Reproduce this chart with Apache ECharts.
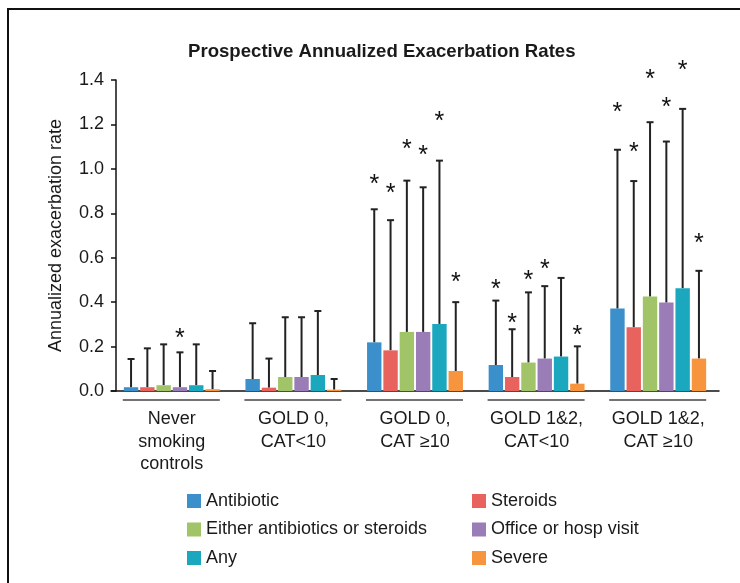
<!DOCTYPE html>
<html>
<head>
<meta charset="utf-8">
<script src="https://cdn.jsdelivr.net/npm/echarts@6/dist/echarts.min.js"></script>
<style>
  html, body { margin: 0; padding: 0; background: #fff; }
  #chart { width: 740px; height: 583px; }
</style>
</head>
<body>
<div id="chart"></div>
<script>
// categories along the x axis
const categories = ['Never\nsmoking\ncontrols', 'GOLD 0,\nCAT<10', 'GOLD 0,\nCAT ≥10', 'GOLD 1&2,\nCAT<10', 'GOLD 1&2,\nCAT ≥10']
const seriesNames = ['Antibiotic', 'Steroids', 'Either antibiotics or steroids', 'Office or hosp visit', 'Any', 'Severe']
const colors = ['#3b8fca', '#e8635d', '#a1c468', '#9a7cb6', '#1ba8be', '#f7953f']
const yTicks = [0, 0.2, 0.4, 0.6, 0.8, 1.0, 1.2, 1.4]

// mean rates
const antibiotic = [0.017, 0.054, 0.219, 0.117, 0.371]
const steroids = [0.017, 0.015, 0.183, 0.063, 0.287]
const either = [0.026, 0.063, 0.266, 0.128, 0.425]
const office = [0.017, 0.063, 0.266, 0.146, 0.398]
const anyExac = [0.026, 0.072, 0.302, 0.155, 0.463]
const severe = [0.008, 0.006, 0.090, 0.033, 0.146]

// upper end of error bars
const antibioticUpper = [0.144, 0.305, 0.818, 0.407, 1.086]
const steroidsUpper = [0.192, 0.146, 0.769, 0.278, 0.945]
const eitherUpper = [0.210, 0.332, 0.947, 0.444, 1.210]
const officeUpper = [0.174, 0.332, 0.917, 0.472, 1.123]
const anyUpper = [0.210, 0.360, 1.037, 0.509, 1.270]
const severeUpper = [0.090, 0.054, 0.400, 0.201, 0.541]

// significance stars (height of the star, null = none)
const antibioticStar = [null, null, 0.959, 0.485, 1.281]
const steroidsStar = [null, null, 0.916, 0.332, 1.104]
const eitherStar = [null, null, 1.116, 0.526, 1.431]
const officeStar = [0.263, null, 1.090, 0.575, 1.306]
const anyStar = [null, null, 1.243, null, 1.473]
const severeStar = [null, null, 0.518, 0.278, 0.691]

const values = [antibiotic, steroids, either, office, anyExac, severe]
const uppers = [antibioticUpper, steroidsUpper, eitherUpper, officeUpper, anyUpper, severeUpper]
const stars = [antibioticStar, steroidsStar, eitherStar, officeStar, anyStar, severeStar]

const FONT = 'Liberation Sans, Arial, sans-serif'
const TEXT = '#1a1a1a'
const barWidth = 14.4
const barGapPx = 1.9
const nBars = seriesNames.length

const chart = echarts.init(document.getElementById('chart'))

const barSeries = seriesNames.map((name, k) => ({
  name: name,
  type: 'bar',
  data: values[k],
  barWidth: barWidth,
  barGap: (barGapPx / barWidth * 100).toFixed(1) + '%',
  barCategoryGap: '20%',
  itemStyle: { color: colors[k] },
  animation: false,
  z: 3
}))

// error bars + stars, one custom series per bar series
const errSeries = seriesNames.map((name, k) => ({
  name: 'err_' + k,
  type: 'custom',
  clip: false,
  animation: false,
  silent: true,
  z: 2,
  data: values[k].map((v, i) => [i, v, uppers[k][i], stars[k][i] == null ? -1 : stars[k][i]]),
  renderItem: function(params, api) {
    const i = api.value(0)
    const base = api.coord([i, api.value(1)])
    const top = api.coord([i, api.value(2)])
    const x = base[0] + (k - (nBars - 1) / 2) * (barWidth + barGapPx)
    const children = [
      { type: 'line', shape: { x1: x, y1: base[1], x2: x, y2: top[1] }, style: { stroke: '#222', lineWidth: 2 } },
      { type: 'line', shape: { x1: x - 3.5, y1: top[1], x2: x + 3.5, y2: top[1] }, style: { stroke: '#222', lineWidth: 2 } }
    ]
    const s = api.value(3)
    if (s >= 0) {
      const sp = api.coord([i, s])
      children.push({
        type: 'text',
        style: {
          text: '*', x: x, y: sp[1] + 7, align: 'center', verticalAlign: 'middle',
          fontSize: 25, fontFamily: FONT, fill: '#111'
        }
      })
    }
    return { type: 'group', children: children }
  }
}))

// short rule under each group of bars
const underline = {
  name: 'underline',
  type: 'custom',
  clip: false,
  silent: true,
  animation: false,
  data: categories.map((c, i) => [i]),
  renderItem: function(params, api) {
    const p = api.coord([api.value(0), 0])
    return {
      type: 'line',
      shape: { x1: p[0] - 49, y1: p[1] + 9, x2: p[0] + 48, y2: p[1] + 9 },
      style: { stroke: '#444', lineWidth: 1.5 }
    }
  }
}

chart.setOption({
  backgroundColor: '#fff',
  textStyle: { fontFamily: FONT },
  title: {
    text: 'Prospective Annualized Exacerbation Rates',
    left: 183,
    top: 37,
    textStyle: { fontFamily: FONT, fontSize: 18.6, fontWeight: 'bold', color: TEXT }
  },
  graphic: [{
    type: 'rect',
    shape: { x: 8, y: 9, width: 760, height: 600 },
    style: { fill: 'none', stroke: '#111', lineWidth: 2 },
    silent: true
  }],
  legend: [{
    data: [seriesNames[0], seriesNames[2], seriesNames[4]],
    orient: 'vertical',
    left: 182,
    top: 487,
    itemWidth: 14,
    itemHeight: 14,
    itemGap: 10.5,
    icon: 'rect',
    textStyle: { fontFamily: FONT, fontSize: 18, color: TEXT }
  }, {
    data: [seriesNames[1], seriesNames[3], seriesNames[5]],
    orient: 'vertical',
    left: 467,
    top: 487,
    itemWidth: 14,
    itemHeight: 14,
    itemGap: 10.5,
    icon: 'rect',
    textStyle: { fontFamily: FONT, fontSize: 18, color: TEXT }
  }],
  grid: { left: 111, right: 21, top: 80, bottom: 192, containLabel: false },
  xAxis: {
    type: 'category',
    data: categories,
    axisLine: { lineStyle: { color: '#111', width: 1.5 } },
    axisTick: { show: false },
    axisLabel: {
      interval: 0, margin: 17, fontSize: 18, lineHeight: 22.5,
      color: TEXT, fontFamily: FONT
    }
  },
  yAxis: {
    type: 'value',
    min: 0,
    max: yTicks[yTicks.length - 1],
    interval: 0.2,
    offset: -5,
    name: 'Annualized exacerbation rate',
    nameLocation: 'middle',
    nameGap: 51,
    nameTextStyle: { fontFamily: FONT, fontSize: 18, color: TEXT },
    axisLine: { show: true, lineStyle: { color: '#111', width: 1.5 } },
    axisTick: { show: true, length: 5, lineStyle: { color: '#111', width: 1.5 } },
    splitLine: { show: false },
    axisLabel: {
      margin: 12, fontSize: 18, color: TEXT, fontFamily: FONT,
      formatter: v => v.toFixed(1)
    }
  },
  series: [...barSeries, ...errSeries, underline]
})
</script>
</body>
</html>
